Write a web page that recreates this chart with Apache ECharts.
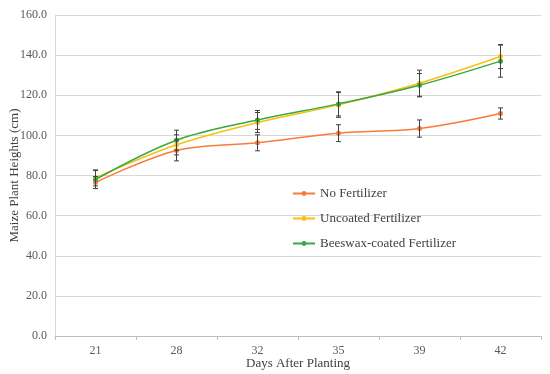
<!DOCTYPE html>
<html><head><meta charset="utf-8">
<script src="https://cdn.jsdelivr.net/npm/echarts@6/dist/echarts.min.js"></script>
<style>html,body{margin:0;padding:0;background:#fff}#c{width:550px;height:374px}</style>
</head><body><div id="c"></div>
<script>
const categories = ['21', '28', '32', '35', '39', '42'];
const seriesNames = ['No Fertilizer', 'Uncoated Fertilizer', 'Beeswax-coated Fertilizer'];
const noFert = [76.5, 92.5, 96.3, 101.1, 103.4, 110.9];
const uncoated = [78.8, 95.3, 106.4, 115.2, 126.0, 139.3];
const beeswax = [78.0, 97.6, 107.7, 115.7, 125.0, 137.0];
const noFertErr = [3.0, 5.2, 4.0, 4.2, 4.3, 2.8];
const uncoatedErr = [4.0, 5.0, 5.0, 6.2, 6.5, 6.0];
const beeswaxErr = [4.5, 5.0, 4.7, 6.0, 5.8, 8.0];
const yTicks = [0, 20, 40, 60, 80, 100, 120, 140, 160];

const colors = ['#F97B3A', '#F8C010', '#3AA83E'];
const values = [noFert, uncoated, beeswax];
const errs = [noFertErr, uncoatedErr, beeswaxErr];
const font = 'Liberation Serif';

const chart = echarts.init(document.getElementById('c'), null, {renderer: 'canvas'});
const series = [];
values.forEach((v, i) => {
  series.push({
    name: seriesNames[i], type: 'line', data: v, smooth: 0.35,
    symbol: 'circle', symbolSize: 5, color: colors[i],
    lineStyle: {width: 1.5, color: colors[i]}, z: 3 + i
  });
});
values.forEach((v, i) => {
  series.push({
    type: 'custom', silent: true, z: 10,
    data: v.map((y, k) => [k, y - errs[i][k], y + errs[i][k]]),
    renderItem: function (params, api) {
      const lo = api.coord([api.value(0), api.value(1)]);
      const hi = api.coord([api.value(0), api.value(2)]);
      const w = 2.5;
      const st = {stroke: '#404040', lineWidth: 1};
      return {type: 'group', children: [
        {type: 'line', shape: {x1: hi[0], y1: hi[1], x2: lo[0], y2: lo[1]}, style: st},
        {type: 'line', shape: {x1: hi[0]-w, y1: hi[1], x2: hi[0]+w, y2: hi[1]}, style: st},
        {type: 'line', shape: {x1: lo[0]-w, y1: lo[1], x2: lo[0]+w, y2: lo[1]}, style: st}
      ]};
    }
  });
});

chart.setOption({
  animation: false,
  textStyle: {fontFamily: font},
  grid: {left: 55, right: 9, top: 15, bottom: 38, containLabel: false, outerBoundsMode: 'none'},
  legend: {
    data: seriesNames, orient: 'vertical', left: 287, top: 182,
    itemWidth: 22, itemHeight: 6, itemGap: 12,
    textStyle: {fontFamily: font, fontSize: 13, color: '#404040'}
  },
  xAxis: {
    type: 'category', data: categories, boundaryGap: true,
    name: 'Days After Planting', nameLocation: 'middle', nameGap: 21, nameMoveOverlap: false,
    nameTextStyle: {fontFamily: font, fontSize: 13, color: '#404040'},
    axisLine: {lineStyle: {color: '#bfbfbf', width: 1}},
    axisTick: {show: true, length: 4, lineStyle: {color: '#bfbfbf'}},
    axisLabel: {fontFamily: font, fontSize: 12, color: '#595959', margin: 9}
  },
  yAxis: {
    type: 'value', min: yTicks[0], max: yTicks[yTicks.length-1], interval: 20,
    name: 'Maize Plant Heights (cm)', nameLocation: 'middle', nameGap: 34, nameMoveOverlap: false,
    nameTextStyle: {fontFamily: font, fontSize: 13, color: '#404040'},
    axisLine: {show: true, lineStyle: {color: '#d9d9d9', width: 1}}, axisTick: {show: false},
    splitLine: {lineStyle: {color: '#d9d9d9', width: 1}},
    axisLabel: {fontFamily: font, fontSize: 12, color: '#595959', margin: 8,
      formatter: v => v.toFixed(1)}
  },
  series: series
});
</script></body></html>
